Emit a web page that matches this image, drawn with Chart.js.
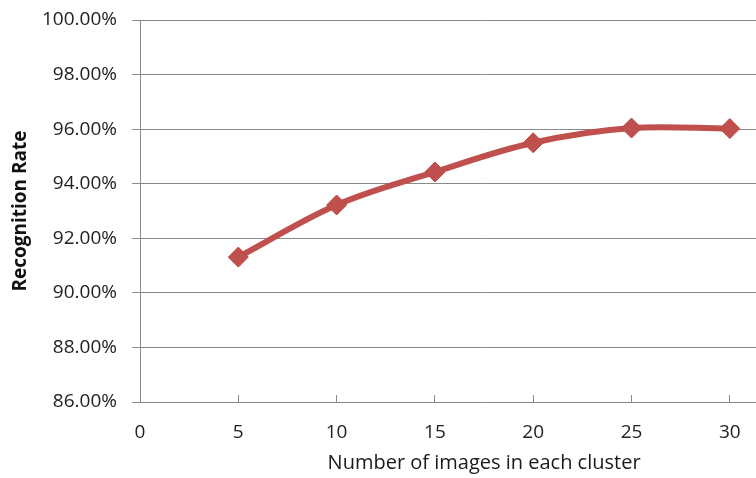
<!DOCTYPE html>
<html>
<head>
<meta charset="utf-8">
<script src="https://cdn.jsdelivr.net/npm/chart.js@4.4.1/dist/chart.umd.min.js"></script>
<style>
  html, body { margin: 0; padding: 0; background: #fff; overflow: hidden; width: 756px; height: 478px; }
  #chart { position: absolute; left: 0; top: 0; }
</style>
</head>
<body>
<canvas id="chart" width="865" height="478"></canvas>
<script>
// Data
const clusterSizes = [5, 10, 15, 20, 25, 30];
const recognitionRates = [91.31, 93.22, 94.43, 95.5, 96.04, 96.02];
const xTicks = [0, 5, 10, 15, 20, 25, 30, 35];
const yTicks = [86, 88, 90, 92, 94, 96, 98, 100];

const red = "#C0504D";
const gridGray = "#8a8a8a";
const font = "'Open Sans', sans-serif";

new Chart(document.getElementById("chart"), {
  type: "line",
  data: {
    datasets: [{
      label: "Recognition Rate",
      data: clusterSizes.map((x, i) => ({ x, y: recognitionRates[i] })),
      borderColor: red,
      backgroundColor: red,
      borderWidth: 6,
      tension: 0.35,
      pointStyle: "rectRot",
      pointRadius: 10,
      pointBorderWidth: 1,
      pointBorderColor: "#b94845",
      pointBackgroundColor: red
    }]
  },
  options: {
    responsive: false,
    animation: false,
    layout: { padding: { left: 0, right: 11, top: 20, bottom: 0 } },
    plugins: { legend: { display: false }, tooltip: { enabled: false } },
    scales: {
      x: {
        type: "linear",
        min: 0,
        max: 35,
        afterBuildTicks: s => { s.ticks = xTicks.map(v => ({ value: v })); },
        afterFit: s => { s.height = 76; },
        grid: { drawOnChartArea: false, color: gridGray, tickLength: -7 },
        border: { color: gridGray },
        ticks: { color: "#222", padding: 26, font: { family: font, size: 19 } },
        title: {
          display: true,
          text: "Number of images in each cluster",
          color: "#1a1a1a",
          font: { family: font, size: 20 },
          padding: { top: 0, bottom: 3 }
        }
      },
      y: {
        min: 86,
        max: 100,
        afterBuildTicks: s => { s.ticks = yTicks.map(v => ({ value: v })); },
        afterFit: s => { s.width = 140; s.paddingTop = 0; s.paddingBottom = 0; },
        grid: { color: gridGray, tickLength: 8 },
        border: { color: gridGray },
        ticks: {
          color: "#222",
          padding: 15,
          font: { family: font, size: 19 },
          callback: v => v.toFixed(2) + "%"
        },
        title: {
          display: true,
          text: "Recognition Rate",
          color: "#111",
          font: { family: font, size: 19, weight: "bold" },
          padding: { top: 9, bottom: 0 }
        }
      }
    }
  }
});
</script>
</body>
</html>
